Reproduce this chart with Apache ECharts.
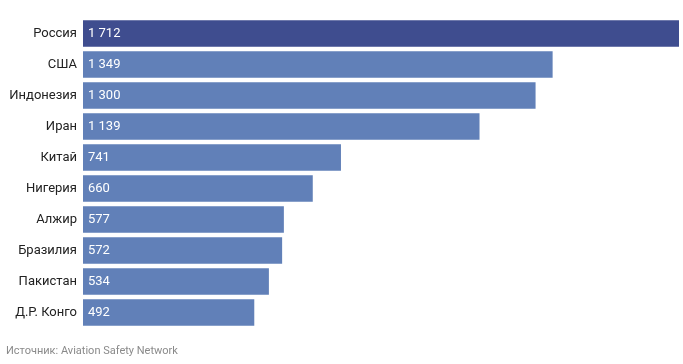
<!DOCTYPE html>
<html><head><meta charset="utf-8">
<script src="https://cdn.jsdelivr.net/npm/echarts@6/dist/echarts.min.js"></script>
<style>html,body{margin:0;padding:0;background:#fff}#c{width:683px;height:364px}</style>
</head><body><div id="c"></div>
<script>
const categories = ['Россия','США','Индонезия','Иран','Китай','Нигерия','Алжир','Бразилия','Пакистан','Д.Р. Конго'];
const values = [1712,1349,1300,1139,741,660,577,572,534,492];
const colors = ['#3f4d8f','#6180b8'];
const chart = echarts.init(document.getElementById('c'));
const fmt = v => String(v).replace(/\B(?=(\d{3})+(?!\d))/g, ' ');
chart.setOption({
  animation:false,
  grid:{left:83,right:4,top:18,height:310},
  xAxis:{type:'value',min:0,max:1712,show:false},
  yAxis:{type:'category',data:categories,inverse:true,
    axisLine:{show:false},axisTick:{show:false},
    axisLabel:{color:'#222',fontFamily:'Roboto',fontSize:13,margin:6}},
  graphic:[{type:'text',left:6,top:346,style:{text:'Источник: Aviation Safety Network',fill:'#8a8a8a',font:'11px Roboto'}}],
  series:[{type:'bar',barCategoryGap:'14%',
    data:values.map((v,i)=>({value:v,itemStyle:{color:i===0?colors[0]:colors[1]}})),
    label:{show:true,position:'insideLeft',distance:5,color:'#fff',fontFamily:'Roboto',fontSize:13,formatter:p=>fmt(p.value)}}]
});
</script></body></html>
